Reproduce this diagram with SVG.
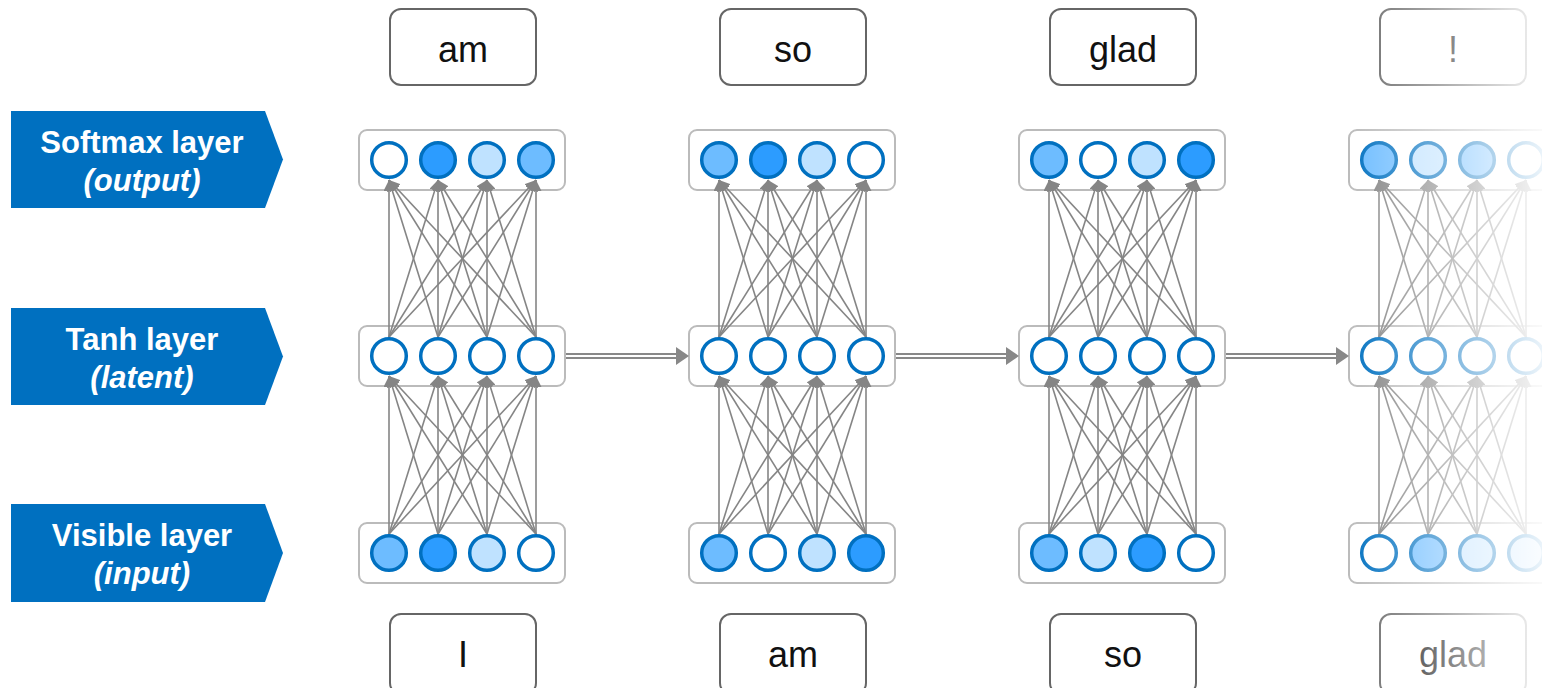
<svg xmlns="http://www.w3.org/2000/svg" xmlns:xlink="http://www.w3.org/1999/xlink" width="1542" height="688" viewBox="0 0 1542 688">
  <style>
    .tag { fill: #0070C0; }
    .tag-t { font-family: "Liberation Sans", Arial, sans-serif; font-weight: bold; font-size: 31px; fill: #fff; text-anchor: middle; }
    .tag-t .it { font-style: italic; }
    .word { fill: #fff; stroke: #666; stroke-width: 2; }
    .word-t { font-family: "Liberation Sans", Arial, sans-serif; font-size: 36px; fill: #111; text-anchor: middle; }
    .layer { fill: #fff; stroke: #bbb; stroke-width: 2; }
    .link { stroke: #858585; stroke-width: 1.6; fill: none; marker-end: url(#head); }
    .n { stroke: #0070C0; stroke-width: 3.5; }
    .w { fill: #fff; }
    .l { fill: #BFE2FF; }
    .m { fill: #6DBCFF; }
    .d { fill: #2C9CFF; }
    .rec-line { stroke: #888; stroke-width: 6; }
    .rec-gap { stroke: #fff; stroke-width: 2; }
    .rec-head { fill: #888; }
  </style>
  <defs>
    <marker id="head" viewBox="0 0 10 10" refX="10" refY="5" markerWidth="11" markerHeight="11" markerUnits="userSpaceOnUse" orient="auto">
      <path d="M0,0 L10,5 L0,10 z" fill="#858585"/>
    </marker>
    <linearGradient id="fade" gradientUnits="userSpaceOnUse" x1="1345" y1="0" x2="1542" y2="0">
      <stop offset="0" stop-color="#fff" stop-opacity="0"/>
      <stop offset="1" stop-color="#fff" stop-opacity="0.92"/>
    </linearGradient>
    <!-- fully connected links of one time step: visible -> tanh -> softmax -->
    <g id="links">
      <line class="link" x1="389" y1="534" x2="389" y2="376"/>
      <line class="link" x1="389" y1="534" x2="438" y2="376"/>
      <line class="link" x1="389" y1="534" x2="487" y2="376"/>
      <line class="link" x1="389" y1="534" x2="536" y2="376"/>
      <line class="link" x1="438" y1="534" x2="389" y2="376"/>
      <line class="link" x1="438" y1="534" x2="438" y2="376"/>
      <line class="link" x1="438" y1="534" x2="487" y2="376"/>
      <line class="link" x1="438" y1="534" x2="536" y2="376"/>
      <line class="link" x1="487" y1="534" x2="389" y2="376"/>
      <line class="link" x1="487" y1="534" x2="438" y2="376"/>
      <line class="link" x1="487" y1="534" x2="487" y2="376"/>
      <line class="link" x1="487" y1="534" x2="536" y2="376"/>
      <line class="link" x1="536" y1="534" x2="389" y2="376"/>
      <line class="link" x1="536" y1="534" x2="438" y2="376"/>
      <line class="link" x1="536" y1="534" x2="487" y2="376"/>
      <line class="link" x1="536" y1="534" x2="536" y2="376"/>
      <line class="link" x1="389" y1="337" x2="389" y2="180"/>
      <line class="link" x1="389" y1="337" x2="438" y2="180"/>
      <line class="link" x1="389" y1="337" x2="487" y2="180"/>
      <line class="link" x1="389" y1="337" x2="536" y2="180"/>
      <line class="link" x1="438" y1="337" x2="389" y2="180"/>
      <line class="link" x1="438" y1="337" x2="438" y2="180"/>
      <line class="link" x1="438" y1="337" x2="487" y2="180"/>
      <line class="link" x1="438" y1="337" x2="536" y2="180"/>
      <line class="link" x1="487" y1="337" x2="389" y2="180"/>
      <line class="link" x1="487" y1="337" x2="438" y2="180"/>
      <line class="link" x1="487" y1="337" x2="487" y2="180"/>
      <line class="link" x1="487" y1="337" x2="536" y2="180"/>
      <line class="link" x1="536" y1="337" x2="389" y2="180"/>
      <line class="link" x1="536" y1="337" x2="438" y2="180"/>
      <line class="link" x1="536" y1="337" x2="487" y2="180"/>
      <line class="link" x1="536" y1="337" x2="536" y2="180"/>
    </g>
    <!-- recurrent arrow between tanh layers -->
    <g id="rec">
      <line class="rec-line" x1="566" y1="356" x2="680" y2="356"/>
      <line class="rec-gap" x1="566" y1="356" x2="678" y2="356"/>
      <path class="rec-head" d="M676,347 L689,356 L676,365 z"/>
    </g>
  </defs>

  <!-- layer tags -->
  <g id="tag-softmax">
    <polygon class="tag" points="11,111 265,111 283,159.5 265,208 11,208"/>
    <text class="tag-t" x="142" y="153">Softmax layer</text>
    <text class="tag-t" x="142" y="191"><tspan class="it">(output)</tspan></text>
  </g>
  <g id="tag-tanh">
    <polygon class="tag" points="11,308 265,308 283,356.5 265,405 11,405"/>
    <text class="tag-t" x="142" y="350">Tanh layer</text>
    <text class="tag-t" x="142" y="388"><tspan class="it">(latent)</tspan></text>
  </g>
  <g id="tag-visible">
    <polygon class="tag" points="11,504 265,504 283,553 265,602 11,602"/>
    <text class="tag-t" x="142" y="546">Visible layer</text>
    <text class="tag-t" x="142" y="584"><tspan class="it">(input)</tspan></text>
  </g>

  <!-- output words -->
  <g id="out-1"><rect class="word" x="390" y="9" width="146" height="76" rx="11"/><text class="word-t" x="463" y="62">am</text></g>
  <g id="out-2"><rect class="word" x="720" y="9" width="146" height="76" rx="11"/><text class="word-t" x="793" y="62">so</text></g>
  <g id="out-3"><rect class="word" x="1050" y="9" width="146" height="76" rx="11"/><text class="word-t" x="1123" y="62">glad</text></g>
  <g id="out-4"><rect class="word" x="1380" y="9" width="146" height="76" rx="11"/><text class="word-t" x="1453" y="62">!</text></g>

  <!-- input words -->
  <g id="in-1"><rect class="word" x="390" y="614" width="146" height="80" rx="11"/><text class="word-t" x="463" y="667">I</text></g>
  <g id="in-2"><rect class="word" x="720" y="614" width="146" height="80" rx="11"/><text class="word-t" x="793" y="667">am</text></g>
  <g id="in-3"><rect class="word" x="1050" y="614" width="146" height="80" rx="11"/><text class="word-t" x="1123" y="667">so</text></g>
  <g id="in-4"><rect class="word" x="1380" y="614" width="146" height="80" rx="11"/><text class="word-t" x="1453" y="667">glad</text></g>

  <!-- layer frames -->
  <g id="frames">
    <rect class="layer" x="359" y="130" width="206" height="60" rx="8"/>
    <rect class="layer" x="359" y="326" width="206" height="60" rx="8"/>
    <rect class="layer" x="359" y="523" width="206" height="60" rx="8"/>
    <rect class="layer" x="689" y="130" width="206" height="60" rx="8"/>
    <rect class="layer" x="689" y="326" width="206" height="60" rx="8"/>
    <rect class="layer" x="689" y="523" width="206" height="60" rx="8"/>
    <rect class="layer" x="1019" y="130" width="206" height="60" rx="8"/>
    <rect class="layer" x="1019" y="326" width="206" height="60" rx="8"/>
    <rect class="layer" x="1019" y="523" width="206" height="60" rx="8"/>
    <rect class="layer" x="1349" y="130" width="206" height="60" rx="8"/>
    <rect class="layer" x="1349" y="326" width="206" height="60" rx="8"/>
    <rect class="layer" x="1349" y="523" width="206" height="60" rx="8"/>
  </g>

  <!-- connectors -->
  <g id="connectors">
    <use xlink:href="#links" href="#links"/>
    <use xlink:href="#links" href="#links" x="330"/>
    <use xlink:href="#links" href="#links" x="660"/>
    <use xlink:href="#links" href="#links" x="990"/>
    <use xlink:href="#rec" href="#rec"/>
    <use xlink:href="#rec" href="#rec" x="330"/>
    <use xlink:href="#rec" href="#rec" x="660"/>
  </g>

  <!-- step 1 -->
  <g id="step1-softmax">
    <circle class="n w" cx="389" cy="160" r="17.3"/><circle class="n d" cx="438" cy="160" r="17.3"/><circle class="n l" cx="487" cy="160" r="17.3"/><circle class="n m" cx="536" cy="160" r="17.3"/>
  </g>
  <g id="step1-tanh">
    <circle class="n w" cx="389" cy="356" r="17.3"/><circle class="n w" cx="438" cy="356" r="17.3"/><circle class="n w" cx="487" cy="356" r="17.3"/><circle class="n w" cx="536" cy="356" r="17.3"/>
  </g>
  <g id="step1-visible">
    <circle class="n m" cx="389" cy="553" r="17.3"/><circle class="n d" cx="438" cy="553" r="17.3"/><circle class="n l" cx="487" cy="553" r="17.3"/><circle class="n w" cx="536" cy="553" r="17.3"/>
  </g>

  <!-- step 2 -->
  <g id="step2-softmax">
    <circle class="n m" cx="719" cy="160" r="17.3"/><circle class="n d" cx="768" cy="160" r="17.3"/><circle class="n l" cx="817" cy="160" r="17.3"/><circle class="n w" cx="866" cy="160" r="17.3"/>
  </g>
  <g id="step2-tanh">
    <circle class="n w" cx="719" cy="356" r="17.3"/><circle class="n w" cx="768" cy="356" r="17.3"/><circle class="n w" cx="817" cy="356" r="17.3"/><circle class="n w" cx="866" cy="356" r="17.3"/>
  </g>
  <g id="step2-visible">
    <circle class="n m" cx="719" cy="553" r="17.3"/><circle class="n w" cx="768" cy="553" r="17.3"/><circle class="n l" cx="817" cy="553" r="17.3"/><circle class="n d" cx="866" cy="553" r="17.3"/>
  </g>

  <!-- step 3 -->
  <g id="step3-softmax">
    <circle class="n m" cx="1049" cy="160" r="17.3"/><circle class="n w" cx="1098" cy="160" r="17.3"/><circle class="n l" cx="1147" cy="160" r="17.3"/><circle class="n d" cx="1196" cy="160" r="17.3"/>
  </g>
  <g id="step3-tanh">
    <circle class="n w" cx="1049" cy="356" r="17.3"/><circle class="n w" cx="1098" cy="356" r="17.3"/><circle class="n w" cx="1147" cy="356" r="17.3"/><circle class="n w" cx="1196" cy="356" r="17.3"/>
  </g>
  <g id="step3-visible">
    <circle class="n m" cx="1049" cy="553" r="17.3"/><circle class="n l" cx="1098" cy="553" r="17.3"/><circle class="n d" cx="1147" cy="553" r="17.3"/><circle class="n w" cx="1196" cy="553" r="17.3"/>
  </g>

  <!-- step 4 -->
  <g id="step4-softmax">
    <circle class="n m" cx="1379" cy="160" r="17.3"/><circle class="n l" cx="1428" cy="160" r="17.3"/><circle class="n m" cx="1477" cy="160" r="17.3"/><circle class="n w" cx="1526" cy="160" r="17.3"/>
  </g>
  <g id="step4-tanh">
    <circle class="n w" cx="1379" cy="356" r="17.3"/><circle class="n w" cx="1428" cy="356" r="17.3"/><circle class="n w" cx="1477" cy="356" r="17.3"/><circle class="n w" cx="1526" cy="356" r="17.3"/>
  </g>
  <g id="step4-visible">
    <circle class="n w" cx="1379" cy="553" r="17.3"/><circle class="n m" cx="1428" cy="553" r="17.3"/><circle class="n l" cx="1477" cy="553" r="17.3"/><circle class="n l" cx="1526" cy="553" r="17.3"/>
  </g>

  <!-- last step fades out to the right -->
  <rect x="1345" y="0" width="197" height="688" fill="url(#fade)"/>
</svg>
